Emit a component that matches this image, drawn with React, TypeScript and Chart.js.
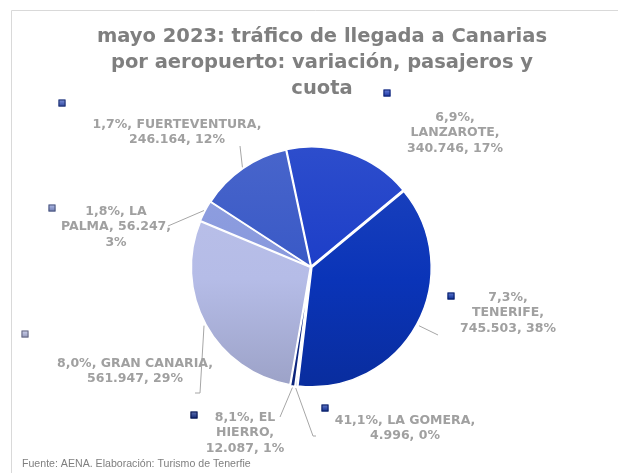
import React, { useEffect, useRef } from 'react';
import { Chart, registerables } from 'chart.js';

Chart.register(...registerables);

// ---- data ----
const airports = ['LANZAROTE', 'TENERIFE', 'LA GOMERA', 'EL HIERRO', 'GRAN CANARIA', 'LA PALMA', 'FUERTEVENTURA'];
const passengers = [340746, 745503, 4996, 12087, 561947, 56247, 246164];
const variation = [6.9, 7.3, 41.1, 8.1, 8.0, 1.8, 1.7];
const shares = [17, 38, 0, 1, 29, 3, 12];
const titleLines = ['mayo 2023: tráfico de llegada a Canarias', 'por aeropuerto: variación, pasajeros y', 'cuota'];
const sourceNote = 'Fuente: AENA. Elaboración: Turismo de Tenerfie';

// ---- styles / layout ----
const sliceColors = ['#1b3dc8', '#0a34b8', '#1236b0', '#0e2a8e', '#b5bce7', '#8798dd', '#3858c6'];
const sliceOffsets = [4, 4, 3, 3, 3, 2, 2];
const wrapWidths = [100, 100, 150, 86, 165, 114, 175];
const labelCenters = [[144, -134], [197, 46], [94, 161], [-66, 166], [-176, 104], [-195, -40], [-134, -135]];
const markerCenters = [[76, -174], [140, 29], [14, 141], [-117, 148], [-286, 67], [-259, -59], [-249, -164]];
const leaderPaths: (number[][] | null)[] = [
  null,
  [[127, 68]],
  [[2, 169], [5, 169]],
  [[-31, 150]],
  [[-111, 126], [-116, 126]],
  [[-143, -41]],
  [[-71, -121]],
];
const PIE_RADIUS = 119;
const LABEL_FONT = 'bold 12.5px "DejaVu Sans"';
const LABEL_COLOR = '#a0a0a0';
const LINE_H = 15.5;

function fmtThousands(n: number) {
  return String(n).replace(/\B(?=(\d{3})+(?!\d))/g, '.');
}
function fmtVar(v: number) {
  return v.toFixed(1).replace('.', ',') + '%';
}
function shade(hex: string, amt: number) {
  const n = parseInt(hex.slice(1), 16);
  let r = (n >> 16) & 255, g = (n >> 8) & 255, b = n & 255;
  const f = (c: number) => Math.max(0, Math.min(255, Math.round(amt >= 0 ? c + (255 - c) * amt : c * (1 + amt))));
  r = f(r); g = f(g); b = f(b);
  return `rgb(${r},${g},${b})`;
}

function wrap(ctx: CanvasRenderingContext2D, text: string, maxW: number) {
  const words = text.split(' ');
  const lines: string[] = [];
  let cur = '';
  for (const w of words) {
    const test = cur ? cur + ' ' + w : w;
    if (cur && ctx.measureText(test).width > maxW) {
      lines.push(cur);
      cur = w;
    } else cur = test;
  }
  if (cur) lines.push(cur);
  return lines;
}

const overlayPlugin = {
  id: 'overlay',
  afterDraw(chart: any) {
    const ctx: CanvasRenderingContext2D = chart.ctx;
    const meta = chart.getDatasetMeta(0);
    const arcs = meta.data;
    if (!arcs.length) return;
    const cx = arcs[0].x;
    const cy = arcs[0].y;
    ctx.save();

    // frame
    ctx.strokeStyle = '#d9d9d9';
    ctx.lineWidth = 1;
    ctx.beginPath();
    ctx.moveTo(11.5, 480);
    ctx.lineTo(11.5, 10.5);
    ctx.lineTo(640, 10.5);
    ctx.stroke();

    // title
    ctx.fillStyle = '#7f7f7f';
    ctx.font = 'bold 19.5px "DejaVu Sans"';
    ctx.textAlign = 'center';
    ctx.textBaseline = 'middle';
    const titleY = [37, 63, 89];
    titleLines.forEach((t, i) => ctx.fillText(t, 322, titleY[i]));

    // source
    ctx.fillStyle = '#7f7f7f';
    ctx.font = '10.6px "Liberation Sans"';
    ctx.textAlign = 'left';
    ctx.fillText(sourceNote, 22, 464);

    // leader lines
    ctx.strokeStyle = '#a6a6a6';
    ctx.lineWidth = 1;
    arcs.forEach((arc: any, i: number) => {
      const path = leaderPaths[i];
      if (!path) return;
      const p = arc.getProps(['startAngle', 'endAngle', 'outerRadius'], true);
      const mid = (p.startAngle + p.endAngle) / 2;
      const r = p.outerRadius + sliceOffsets[i];
      ctx.beginPath();
      ctx.moveTo(cx + Math.cos(mid) * r, cy + Math.sin(mid) * r);
      path.forEach(([dx, dy]) => ctx.lineTo(cx + dx, cy + dy));
      ctx.stroke();
    });

    // labels
    ctx.font = LABEL_FONT;
    ctx.fillStyle = LABEL_COLOR;
    ctx.textAlign = 'center';
    ctx.textBaseline = 'middle';
    airports.forEach((name, i) => {
      const text = `${fmtVar(variation[i])}, ${name}, ${fmtThousands(passengers[i])}, ${shares[i]}%`;
      const lines = wrap(ctx, text, wrapWidths[i]);
      const [lx, ly] = labelCenters[i];
      const top = cy + ly - ((lines.length - 1) * LINE_H) / 2;
      lines.forEach((l, k) => ctx.fillText(l, cx + lx, top + k * LINE_H));
    });

    // legend keys
    airports.forEach((_, i) => {
      const [mx, my] = markerCenters[i];
      const x = Math.round(cx + mx) - 3.5;
      const y = Math.round(cy + my) - 3.5;
      const g = ctx.createLinearGradient(0, y, 0, y + 7);
      g.addColorStop(0, shade(sliceColors[i], 0.35));
      g.addColorStop(1, shade(sliceColors[i], -0.2));
      ctx.fillStyle = g;
      ctx.fillRect(x, y, 7, 7);
      ctx.strokeStyle = shade(sliceColors[i], -0.45);
      ctx.lineWidth = 1;
      ctx.strokeRect(x + 0.5, y + 0.5, 6, 6);
    });
    ctx.restore();
  },
};

export default function App() {
  const canvasRef = useRef<HTMLCanvasElement | null>(null);

  useEffect(() => {
    if (!canvasRef.current) return;
    const chart = new Chart(canvasRef.current, {
      type: 'pie',
      data: {
        labels: airports,
        datasets: [
          {
            data: passengers,
            backgroundColor: (c: any) => {
              const base = sliceColors[c.dataIndex] || '#2040c0';
              const area = c.chart.chartArea;
              if (!area) return base;
              const ccy = (area.top + area.bottom) / 2;
              const g = c.chart.ctx.createLinearGradient(0, ccy - PIE_RADIUS, 0, ccy + PIE_RADIUS);
              g.addColorStop(0, shade(base, 0.08));
              g.addColorStop(0.55, base);
              g.addColorStop(1, shade(base, -0.14));
              return g;
            },
            borderColor: '#ffffff',
            borderWidth: 1.5,
            offset: sliceOffsets,
            radius: PIE_RADIUS,
          } as any,
        ],
      },
      options: {
        animation: false,
        responsive: true,
        maintainAspectRatio: false,
        rotation: -12,
        layout: { padding: { left: 4, right: 0, top: 100, bottom: 39 } },
        plugins: {
          legend: { display: false },
          tooltip: { enabled: false },
          title: { display: false },
        },
      },
      plugins: [overlayPlugin],
    });
    return () => chart.destroy();
  }, []);

  return (
    <div style={{ position: 'absolute', left: 0, top: 0, width: 618, height: 473, background: '#ffffff' }}>
      <canvas ref={canvasRef} />
    </div>
  );
}
